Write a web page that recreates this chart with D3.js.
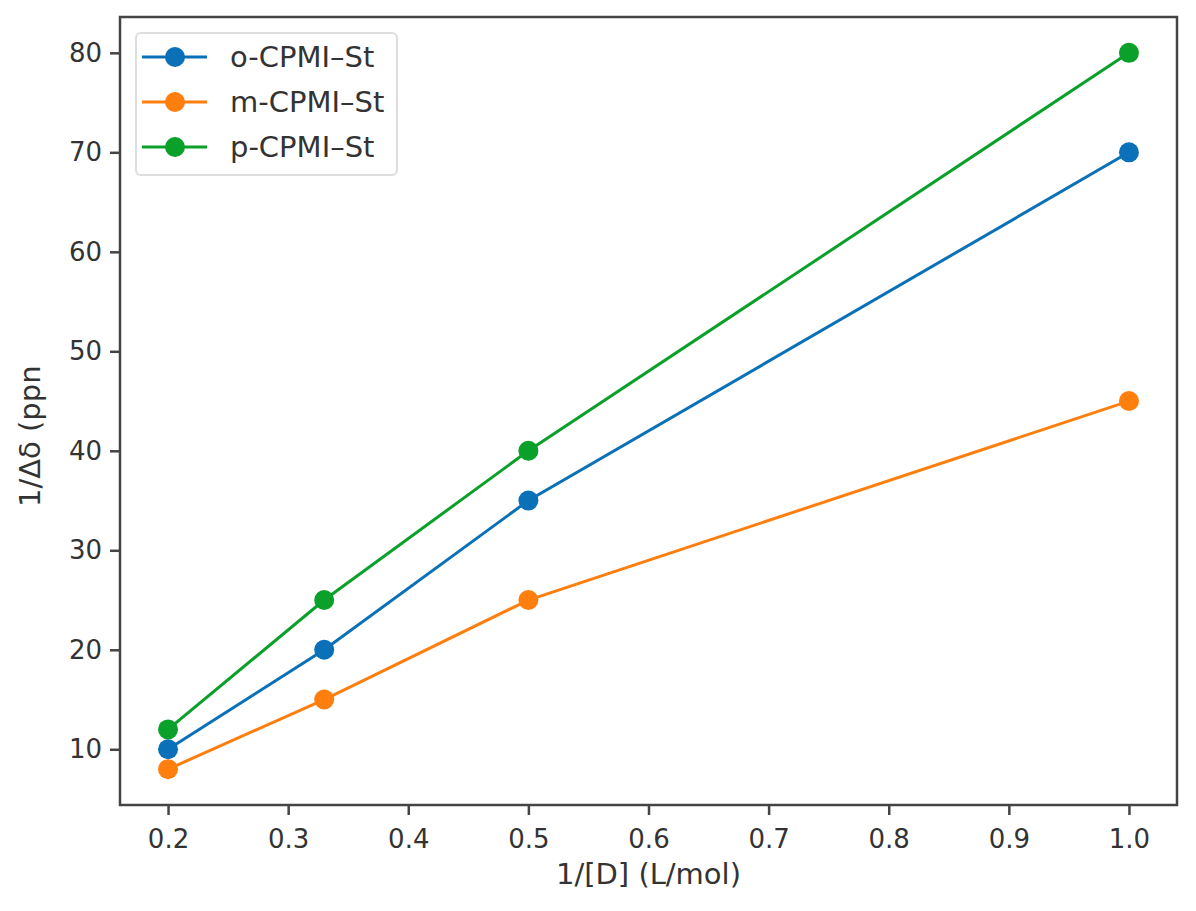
<!DOCTYPE html>
<html><head><meta charset="utf-8">
<script src="https://cdn.jsdelivr.net/npm/d3@7"></script>
<style>body{margin:0;background:#fff;} text{font-family:"DejaVu Sans",sans-serif;}</style>
</head><body><svg id="c" width="1196" height="911"></svg>
<script>
const xValues = [0.2, 0.33, 0.5, 1.0];
const oValues = [10, 20, 35, 70];
const mValues = [8, 15, 25, 45];
const pValues = [12, 25, 40, 80];
const seriesNames = ["o-CPMI\u2013St", "m-CPMI\u2013St", "p-CPMI\u2013St"];
const seriesColors = ["#0a70b8", "#ff7f0e", "#0aa02a"];
const xTicks = [0.2, 0.3, 0.4, 0.5, 0.6, 0.7, 0.8, 0.9, 1.0];
const yTicks = [10, 20, 30, 40, 50, 60, 70, 80];

const L = 120, R = 1177, T = 17, B = 805;
const svg = d3.select("#c");
const x = d3.scaleLinear().domain([0.16, 1.04]).range([L, R]);
const y = d3.scaleLinear().domain([4.4, 83.6]).range([B, T]);
const axColor = "#444";
const fs = 26, lfs = 29;

const xa = svg.append("g").attr("transform", `translate(0,${B})`)
  .call(d3.axisBottom(x).tickValues(xTicks).tickFormat(d3.format(".1f")).tickSize(10).tickPadding(8));
const ya = svg.append("g").attr("transform", `translate(${L},0)`)
  .call(d3.axisLeft(y).tickValues(yTicks).tickFormat(d3.format("d")).tickSize(10).tickPadding(8));
[xa, ya].forEach(g => {
  g.select(".domain").remove();
  g.selectAll(".tick line").attr("stroke", axColor).attr("stroke-width", 2.5);
  g.selectAll(".tick text").attr("fill", "#333").style("font-size", fs + "px").style("font-family", "DejaVu Sans");
});
xa.selectAll(".tick text").attr("dy", "0.95em");

const data = [oValues, mValues, pValues];
const line = d3.line().x((d, i) => x(xValues[i])).y(d => y(d));
data.forEach((vals, k) => {
  svg.append("path").datum(vals).attr("d", line).attr("fill", "none")
    .attr("stroke", seriesColors[k]).attr("stroke-width", 3);
  svg.selectAll(null).data(vals).enter().append("circle")
    .attr("cx", (d, i) => x(xValues[i])).attr("cy", d => y(d)).attr("r", 10)
    .attr("fill", seriesColors[k]);
});

svg.append("rect").attr("x", L).attr("y", T).attr("width", R - L).attr("height", B - T)
  .attr("fill", "none").attr("stroke", axColor).attr("stroke-width", 2.5);

// legend
const lg = svg.append("g");
lg.append("rect").attr("x", 136).attr("y", 33).attr("width", 261).attr("height", 142)
  .attr("rx", 5).attr("fill", "#fff").attr("stroke", "#ddd").attr("stroke-width", 2);
seriesNames.forEach((n, k) => {
  const yy = 57 + k * 45;
  lg.append("line").attr("x1", 142).attr("x2", 207).attr("y1", yy).attr("y2", yy)
    .attr("stroke", seriesColors[k]).attr("stroke-width", 3);
  lg.append("circle").attr("cx", 175).attr("cy", yy).attr("r", 10).attr("fill", seriesColors[k]);
  lg.append("text").attr("x", 230).attr("y", yy).attr("dy", "0.36em").attr("fill", "#333")
    .style("font-size", lfs + "px").text(n);
});

svg.append("text").attr("x", (L + R) / 2).attr("y", 884).attr("text-anchor", "middle")
  .attr("fill", "#333").style("font-size", lfs + "px").text("1/[D] (L/mol)");
svg.append("text").attr("transform", "translate(40,507) rotate(-90)").attr("text-anchor", "start")
  .attr("fill", "#333").style("font-size", lfs + "px").text("1/\u0394\u03b4 (ppn");
</script></body></html>
